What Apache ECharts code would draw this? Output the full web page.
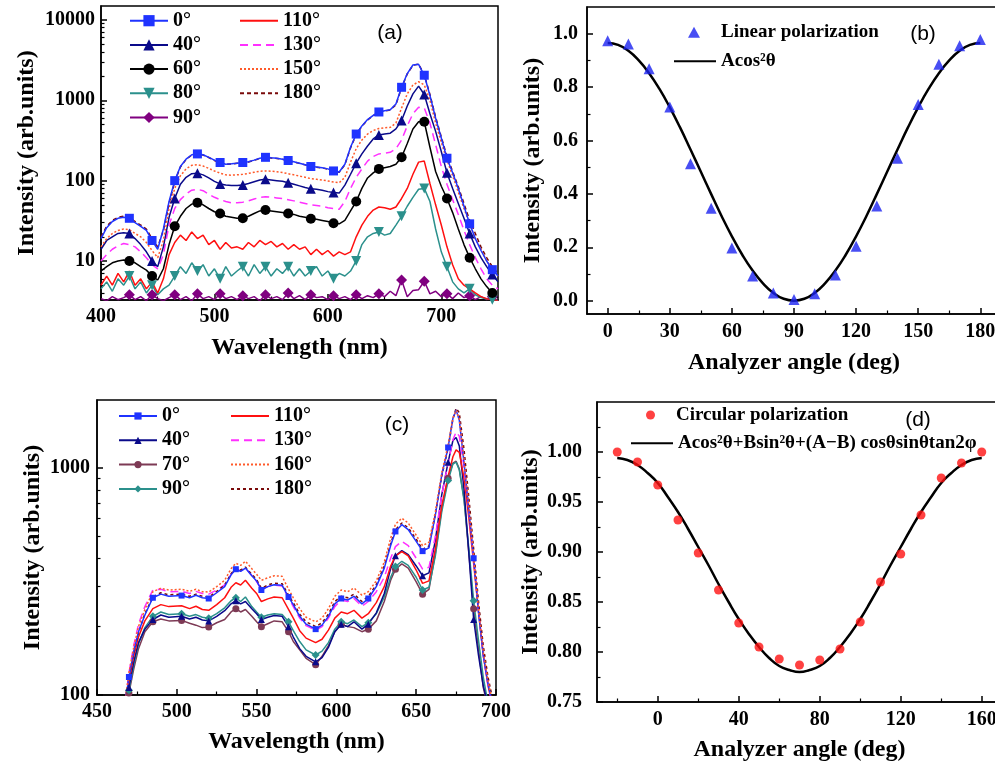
<!DOCTYPE html>
<html><head><meta charset="utf-8">
<script src="https://cdn.jsdelivr.net/npm/echarts@6/dist/echarts.min.js"></script>
<style>html,body{margin:0;padding:0;background:#fff;overflow:hidden}.p{position:absolute;left:0;top:0;width:995px;height:765px}</style>
</head><body>
<div id="pa" class="p"></div><div id="pb" class="p"></div><div id="pc" class="p"></div><div id="pd" class="p"></div>
<script>
// ---------- Panel (a) data ----------
const wlA = [400,405,410,415,420,425,430,435,440,445,
450,455,460,465,470,475,480,485,490,495,
500,505,510,515,520,525,530,535,540,545,
550,555,560,565,570,575,580,585,590,595,
600,605,610,615,620,625,630,635,640,645,
650,655,660,665,670,675,680,685,690,695,
700,705,710,715,720,725,730,735,740,745,750];
const a0 = [19,26,31,34,35,34,30,27,24,18,
14,25,55,100,150,185,210,215,210,195,
180,168,160,162,165,168,172,180,190,195,
192,190,185,178,172,165,158,150,148,145,
140,132,128,160,260,380,480,575,650,715,
740,760,900,1450,2150,2750,2800,2050,1150,600,
340,190,125,80,48,29,19,13.5,10,7.8,6.5];
const a40 = [14,18,20,22,22.5,22,19,16,13,10,
8.5,15,35,60,90,110,122,124,118,108,
98,91,88,87,87,88,92,97,102,104,
102,100,98,94,90,86,82,79,78,76,
73,71,70,88,120,165,215,270,330,370,
380,390,440,560,850,1200,1500,1180,680,410,
230,125,80,52,34,22,15,11,8.5,6.8,5.5];
const a60 = [7.5,8.5,9.5,10,10.3,10,9.5,8.5,7.7,6.5,
5.8,8,16,27,36,45,51,53,50,45,
41,39,36,35,34,34,36,39,42,43,
42,41,40,39,38,36,35,33.5,33,32,
31,29.5,29,32,42,55,80,108,125,140,
145,150,160,195,290,440,540,540,260,130,
85,60,40,25,16,11,8,6,4.8,4,3.5];
const a80 = [4.5,5.5,4.2,6,5,6.5,4.5,5.5,4,5,
3.8,4.5,5,6.5,8.5,7,9.5,7.5,9,6.5,
8,6,8.5,6.5,7.5,8.5,6.5,9,7,8.5,
6.5,8,7,8.5,6.5,8,6.5,7.5,8.5,6.5,
7.5,6,7,6.5,7.5,10,16,20,22,23,
21,22,28,36,48,62,78,80,55,25,
13,8.5,5.5,4.5,4,4.5,3.8,3.5,3.4,3.3,3.2];
const a90 = [3.4,3.2,3.6,3.3,3.5,3.8,3.3,3.6,3.2,3.8,
3.4,3.2,3.5,3.8,3.3,3.6,3.2,3.9,3.4,3.6,
3.3,3.9,3.4,3.6,3.3,3.7,3.4,3.6,3.2,3.8,
3.4,3.6,3.3,4.0,3.4,3.7,3.3,3.8,3.5,3.6,
3.3,3.7,3.4,3.6,3.3,3.8,3.4,3.7,3.5,3.9,
3.6,4.2,3.7,5.8,3.6,4.3,4.4,5.6,3.9,4.2,
3.6,3.9,3.4,4.0,3.5,3.7,3.3,3.6,3.3,3.6,3.2];
const a110 = [5,6.5,5,7,5.5,7.5,5,6,4.5,5.5,
4,6,12,17,21,18,23,19,21,16,
18,14,17,14.5,15,14,17,15,18,16,
17.5,15,16.5,14,16,14,15,12,14,12,
13.5,11.5,13,12,13,20,28,36,43,47,
46,44,47,60,80,120,170,175,92,50,
28,15,9,6,5,4.5,4,3.6,3.4,3.3,3.2];
const a130 = [10,12,14,15.5,16.5,16,15,13,11,9,
8,12,28,45,58,68,76,78,75,68,
62,58,55,53,53,54,56,59,62,63,
62,61,60,58,56,54,52,50,49,48,
46,45,44,55,80,110,140,175,200,215,
220,225,250,320,480,680,820,800,520,280,
150,90,58,38,24,16,11,8,6,5,4.5];
const a150 = [15,19,22,24,25,24.5,22,20,17,13.5,
11,18,45,80,115,140,155,158,152,142,
132,124,118,117,118,120,123,127,131,132,
131,129,126,122,118,114,110,106,104,102,
99,96,94,110,170,250,320,380,420,445,
455,460,520,800,1200,1550,1700,1550,1000,520,
300,180,115,72,45,29,19,14,10,8,6.5];
const a180 = [20,27,32,35,36,35,31,28,25,19,
15,24,52,97,148,183,208,213,208,194,
178,167,160,161,164,167,171,179,188,193,
191,189,184,177,171,164,157,149,147,144,
139,131,127,158,255,375,475,570,645,710,
735,755,880,1430,2130,2720,2820,2080,1180,620,
350,200,130,84,52,32,22,15,11,8.5,7];

// ---------- Panel (b) data ----------
const angB = [0,10,20,30,40,50,60,70,80,90,100,110,120,130,140,150,160,170,180];
const linB = [0.974,0.961,0.869,0.725,0.513,0.346,0.197,0.092,0.029,0.004,0.026,0.096,0.204,0.355,0.533,0.735,0.886,0.955,0.978];
const fitAngB = [0,5,10,15,20,25,30,35,40,45,50,55,60,65,70,75,80,85,90,95,100,105,110,115,120,125,130,135,140,145,150,155,160,165,170,175,180];
const fitB = [0.965,0.958,0.936,0.900,0.852,0.793,0.724,0.648,0.566,0.483,0.399,0.317,0.241,0.172,0.113,0.065,0.029,0.007,0.000,0.007,0.029,0.065,0.113,0.172,0.241,0.317,0.399,0.483,0.566,0.648,0.724,0.793,0.852,0.900,0.936,0.958,0.965];

// ---------- Panel (c) data ----------
const wlC = [468,470,473,476,480,485,490,495,503,508,
512,516,520,525,530,534,537,540,543,547,
550,553,557,561,566,570,573,577,581,587,
591,595,599,603,607,611,616,620,625,630,
634,637,641,645,650,654,658,662,666,670,
673,675,677,680,683,686,689,692,695,698];
const c0 = [96,120,155,190,225,268,278,272,274,268,
275,268,266,282,300,338,358,350,362,335,
318,290,300,306,304,270,250,222,205,195,
203,222,252,266,262,272,252,266,300,362,
455,525,562,535,475,430,445,620,930,1230,
1650,1800,1620,1050,650,400,232,150,112,90];
const c40 = [90,108,140,170,195,215,225,220,222,216,
220,214,212,222,235,252,260,252,258,240,
228,215,220,224,222,200,180,160,148,140,
146,162,190,205,200,210,195,205,230,280,
360,410,432,415,370,335,345,480,760,1060,
1320,1360,1250,800,420,215,150,110,90,80];
const c70 = [86,102,130,160,190,210,216,212,213,207,
203,198,199,208,215,232,240,232,238,222,
210,200,206,212,210,190,172,158,145,136,
148,165,190,205,200,198,190,195,212,258,
320,358,378,362,315,278,292,420,660,900,
1050,1070,990,730,420,240,160,108,88,78];
const c90 = [88,105,135,168,198,222,232,226,228,222,
226,220,218,228,242,260,268,258,270,245,
232,220,225,228,226,210,192,172,158,150,
156,170,195,210,206,214,200,208,228,270,
330,368,388,372,330,290,298,410,640,880,
1040,1060,980,720,440,260,175,120,92,80];
const c110 = [94,115,148,180,212,240,250,245,247,240,
246,238,236,250,268,298,312,305,320,295,
280,258,265,270,268,238,218,192,178,170,
176,193,218,232,228,236,218,228,255,300,
370,410,428,410,355,310,318,440,680,920,
1120,1200,1170,900,600,380,235,150,110,88];
const c130 = [97,125,165,205,245,290,292,285,286,280,
286,280,278,290,305,340,360,352,362,336,
316,292,300,305,302,268,245,218,202,193,
200,218,245,262,258,266,246,258,285,330,
400,450,475,455,400,358,365,500,760,1050,
1330,1440,1380,1000,640,400,240,150,110,90];
const c160 = [98,125,162,200,238,285,295,290,292,286,
292,285,284,300,320,360,380,372,388,360,
340,320,328,335,333,292,268,240,220,210,
218,240,272,290,285,296,275,285,318,385,
490,565,600,572,505,455,470,640,950,1260,
1660,1790,1640,1080,670,405,240,155,115,92];
const c180 = [95,118,152,188,228,270,282,276,278,272,
278,272,270,286,305,342,362,355,366,340,
322,295,305,311,309,275,255,227,210,200,
208,227,258,272,268,278,258,272,306,370,
465,535,572,545,485,438,452,625,920,1220,
1640,1830,1750,1200,740,440,260,165,120,95];

// ---------- Panel (d) data ----------
const angD = [-20,-10,0,10,20,30,40,50,60,70,80,90,100,110,120,130,140,150,160];
const circD = [1.000,0.990,0.967,0.932,0.899,0.862,0.829,0.805,0.793,0.787,0.792,0.803,0.830,0.870,0.898,0.937,0.974,0.989,1.000];
const fitAngD = [-20,-15,-10,-5,0,5,10,15,20,25,30,35,40,45,50,55,60,65,70,75,80,85,90,95,100,105,110,115,120,125,130,135,140,145,150,155,160];
const fitD = [0.994,0.992,0.987,0.979,0.969,0.955,0.940,0.923,0.905,0.887,0.868,0.850,0.833,0.818,0.805,0.794,0.786,0.782,0.780,0.782,0.786,0.794,0.805,0.818,0.833,0.850,0.868,0.887,0.905,0.923,0.940,0.955,0.969,0.979,0.987,0.992,0.994];

// ---------- tick values ----------
const tickAx = [400,500,600,700], tickAxMinor = [450,550,650];
const tickAy = [10,100,1000,10000];
const tickAyMinor = [4,5,6,7,8,9,20,30,40,50,60,70,80,90,200,300,400,500,600,700,800,900,2000,3000,4000,5000,6000,7000,8000,9000];
const tickBx = [0,30,60,90,120,150,180], tickBxMinor = [15,45,75,105,135,165];
const tickBy = [0,0.2,0.4,0.6,0.8,1.0], tickByMinor = [0.1,0.3,0.5,0.7,0.9];
const tickCx = [450,500,550,600,650,700], tickCxMinor = [475,525,575,625,675];
const tickCy = [100,1000], tickCyMinor = [200,300,400,500,600,700,800,900];
const tickDx = [0,40,80,120,160], tickDxMinor = [-20,20,60,100,140];
const tickDy = [0.75,0.80,0.85,0.90,0.95,1.00], tickDyMinor = [0.775,0.825,0.875,0.925,0.975,1.025];

// ---------- styling helpers ----------
const FONT = 'Liberation Serif';
const lbl = {fontFamily: FONT, fontWeight: 'bold', fontSize: 20, color: '#000'};
const nameTs = {fontFamily: FONT, fontWeight: 'bold', fontSize: 24, color: '#000'};
function mainAxis(o) {
  return {
    type: o.type || 'value', logBase: 10, gridIndex: 0, min: o.min, max: o.max, position: o.position,
    axisLine: {show: true, onZero: false, lineStyle: {color: '#000', width: 1.5}},
    axisTick: {show: true, inside: true, length: 6, customValues: o.major, lineStyle: {color: '#000', width: 1.5}},
    axisLabel: Object.assign({show: true, customValues: o.major, margin: o.margin, formatter: o.fmt || (v => String(v))}, lbl),
    splitLine: {show: false}, minorTick: {show: false},
    name: o.name, nameLocation: 'middle', nameGap: o.nameGap, nameTextStyle: nameTs
  };
}
function minorAxis(o) {
  return {
    type: o.type || 'value', logBase: 10, gridIndex: 0, min: o.min, max: o.max, position: o.position,
    axisLine: {show: false, onZero: false},
    axisTick: {show: true, inside: true, length: 3.5, customValues: o.minor, lineStyle: {color: '#000', width: 1.2}},
    axisLabel: {show: false}, splitLine: {show: false}, minorTick: {show: false}
  };
}
function grid(l, t, w, h) {
  return {left: l, top: t, width: w, height: h, show: true, borderColor: '#000', borderWidth: 1.5,
    backgroundColor: 'transparent', containLabel: false, outerBoundsMode: 'none'};
}
function legend(left, top, data, iw, ih, gap, fs, pad) {
  const lg = {orient: 'vertical', left: left, top: top, data: data, itemWidth: iw, itemHeight: ih, itemGap: gap,
    padding: 0, selectedMode: false, symbolKeepAspect: true,
    textStyle: {fontFamily: FONT, fontWeight: 'bold', fontSize: fs, lineHeight: 20, color: '#000'}};
  if (pad) {
    lg.formatter = n => '{t|' + n + '}';
    lg.textStyle.rich = {t: {fontFamily: FONT, fontWeight: 'bold', fontSize: fs, lineHeight: 20, color: '#000', padding: [0, 0, 0, pad]}};
  }
  return lg;
}
function legendItems(names, series) {
  return names.map(n => {
    const s = series.find(q => q.name === n);
    return (s && !s.symbol) ? {name: n, itemStyle: {opacity: 0}} : {name: n};
  });
}
function lineSer(xs, s, marks) {
  const ser = {
    name: s.name, type: 'line', data: xs.map((x, i) => [x, s.y[i]]),
    lineStyle: {color: s.color, width: s.width || 1.5, type: s.dash || 'solid'},
    itemStyle: {color: s.color}, emphasis: {disabled: true}, clip: true, animation: false
  };
  if (s.symbol) {
    ser.symbol = s.symbol; ser.showSymbol = true;
    ser.symbolSize = v => (marks.indexOf(v[0]) >= 0 ? s.size : 0);
  } else { ser.symbol = 'none'; ser.showSymbol = false; }
  return ser;
}
function panelLabel(text, x, y) {
  return {type: 'text', x: x, y: y, style: {text: text, fontFamily: 'Liberation Sans', fontSize: 21, fill: '#000', align: 'center', verticalAlign: 'middle'}};
}
const downTri = 'path://M0,0L10,0L5,9Z';

// ---------- Panel (a) ----------
const markA = [425,445,465,485,505,525,545,565,585,605,625,645,665,685,705,725,745];
const serA = [
  {name: '90°', y: a90, color: '#800080', symbol: 'diamond', size: 11},
  {name: '80°', y: a80, color: '#2b908c', symbol: downTri, size: 10},
  {name: '110°', y: a110, color: '#ff1010'},
  {name: '60°', y: a60, color: '#000000', symbol: 'circle', size: 10},
  {name: '130°', y: a130, color: '#ff30ff', dash: [8, 5]},
  {name: '40°', y: a40, color: '#0a0a8a', symbol: 'triangle', size: 10},
  {name: '150°', y: a150, color: '#ff5a2a', dash: [2, 2]},
  {name: '180°', y: a180, color: '#7a0a0a', dash: [4, 3]},
  {name: '0°', y: a0, color: '#1f33ff', symbol: 'rect', size: 9}
];
const optA = {
  animation: false,
  grid: [grid(101, 6, 397, 294)],
  xAxis: [
    mainAxis({min: 400, max: 750, position: 'bottom', major: tickAx, margin: 7, name: 'Wavelength (nm)', nameGap: 36}),
    minorAxis({min: 400, max: 750, position: 'bottom', minor: tickAxMinor})
  ],
  yAxis: [
    mainAxis({type: 'log', min: 3.27, max: 14900, position: 'left', major: tickAy, margin: 6, name: 'Intensity (arb.units)', nameGap: 62}),
    minorAxis({type: 'log', min: 3.27, max: 14900, position: 'left', minor: tickAyMinor})
  ],
  legend: [
    legend(129, 10.7, legendItems(['0°', '40°', '60°', '80°', '90°'], serA), 38, 14, 4.2, 20),
    legend(239, 10.7, legendItems(['110°', '130°', '150°', '180°'], serA), 38, 14, 4.2, 20)
  ],
  graphic: [panelLabel('(a)', 390, 33)],
  series: serA.map(s => lineSer(wlA, s, markA))
};

// ---------- Panel (b) ----------
const optB = {
  animation: false,
  grid: [grid(587, 7, 414, 307)],
  xAxis: [
    mainAxis({min: -10, max: 190, position: 'bottom', major: tickBx, margin: 8, name: 'Analyzer angle (deg)', nameGap: 37}),
    minorAxis({min: -10, max: 190, position: 'bottom', minor: tickBxMinor})
  ],
  yAxis: [
    mainAxis({min: -0.05, max: 1.1, position: 'left', major: tickBy, margin: 9, fmt: v => Number(v).toFixed(1), name: 'Intensity (arb.units)', nameGap: 42}),
    minorAxis({min: -0.05, max: 1.1, position: 'left', minor: tickByMinor})
  ],
  legend: [
    legend(688, 22.3, ['Linear polarization'], 12, 11, 0, 19, 16),
    legend(673, 51.3, [{name: 'Acos²θ', itemStyle: {opacity: 0}}], 42, 12, 0, 19)
  ],
  graphic: [panelLabel('(b)', 923, 34)],
  series: [
    {name: 'Linear polarization', type: 'scatter', data: angB.map((a, i) => [a, linB[i]]), symbol: 'triangle', symbolSize: 11,
      itemStyle: {color: '#1a22f0'}, z: 3, emphasis: {disabled: true}},
    {name: 'Acos²θ', type: 'line', data: fitAngB.map((a, i) => [a, fitB[i]]), smooth: true, symbol: 'none', showSymbol: false,
      lineStyle: {color: '#000', width: 2.5}, itemStyle: {color: '#000'}, emphasis: {disabled: true}}
  ]
};

// ---------- Panel (c) ----------
const markC = [470,485,503,520,537,553,570,587,603,620,637,654,670,686];
const serC = [
  {name: '70°', y: c70, color: '#7d3a55', symbol: 'circle', size: 7},
  {name: '90°', y: c90, color: '#2b908c', symbol: 'diamond', size: 8},
  {name: '40°', y: c40, color: '#0a0a8a', symbol: 'triangle', size: 7},
  {name: '110°', y: c110, color: '#ff1010'},
  {name: '130°', y: c130, color: '#ff30ff', dash: [8, 5]},
  {name: '180°', y: c180, color: '#7a0a0a', dash: [3, 3]},
  {name: '0°', y: c0, color: '#1f33ff', symbol: 'rect', size: 6},
  {name: '160°', y: c160, color: '#ff5a2a', dash: [2, 2]}
];
const optC = {
  animation: false,
  grid: [grid(97, 400, 399, 295)],
  xAxis: [
    mainAxis({min: 450, max: 700, position: 'bottom', major: tickCx, margin: 7, name: 'Wavelength (nm)', nameGap: 35}),
    minorAxis({min: 450, max: 700, position: 'bottom', minor: tickCxMinor})
  ],
  yAxis: [
    mainAxis({type: 'log', min: 100, max: 1990, position: 'left', major: tickCy, margin: 7, name: 'Intensity (arb.units)', nameGap: 52}),
    minorAxis({type: 'log', min: 100, max: 1990, position: 'left', minor: tickCyMinor})
  ],
  legend: [
    legend(118, 406, legendItems(['0°', '40°', '70°', '90°'], serC), 38, 9, 4.3, 20),
    legend(230, 406, legendItems(['110°', '130°', '160°', '180°'], serC), 38, 9, 4.3, 20)
  ],
  graphic: [panelLabel('(c)', 397, 425)],
  series: serC.map(s => lineSer(wlC, s, markC))
};

// ---------- Panel (d) ----------
const fitNameD = 'Acos²θ+Bsin²θ+(A−B) cosθsinθtan2φ';
const optD = {
  animation: false,
  grid: [grid(597, 402, 405, 300)],
  xAxis: [
    mainAxis({min: -30, max: 170, position: 'bottom', major: tickDx, margin: 8, name: 'Analyzer angle (deg)', nameGap: 36}),
    minorAxis({min: -30, max: 170, position: 'bottom', minor: tickDxMinor})
  ],
  yAxis: [
    mainAxis({min: 0.75, max: 1.05, position: 'left', major: tickDy, margin: 15, fmt: v => Number(v).toFixed(2), name: 'Intensity (arb.units)', nameGap: 52}),
    minorAxis({min: 0.75, max: 1.05, position: 'left', minor: tickDyMinor})
  ],
  legend: [
    legend(646, 405, ['Circular polarization'], 9, 9, 0, 19, 16),
    legend(630, 433.3, [{name: fitNameD, itemStyle: {opacity: 0}}], 42, 10, 0, 19)
  ],
  graphic: [panelLabel('(d)', 918, 420)],
  series: [
    {name: 'Circular polarization', type: 'scatter', data: angD.map((a, i) => [a, circD[i]]), symbol: 'circle', symbolSize: 9,
      itemStyle: {color: '#ff1111'}, z: 3, emphasis: {disabled: true}},
    {name: fitNameD, type: 'line', data: fitAngD.map((a, i) => [a, fitD[i]]), smooth: true, symbol: 'none', showSymbol: false,
      lineStyle: {color: '#000', width: 2.5}, itemStyle: {color: '#000'}, emphasis: {disabled: true}}
  ]
};

[['pa', optA], ['pb', optB], ['pc', optC], ['pd', optD]].forEach(([id, opt]) => {
  const ch = echarts.init(document.getElementById(id), null, {renderer: 'canvas'});
  ch.setOption(opt);
});
</script></body></html>
